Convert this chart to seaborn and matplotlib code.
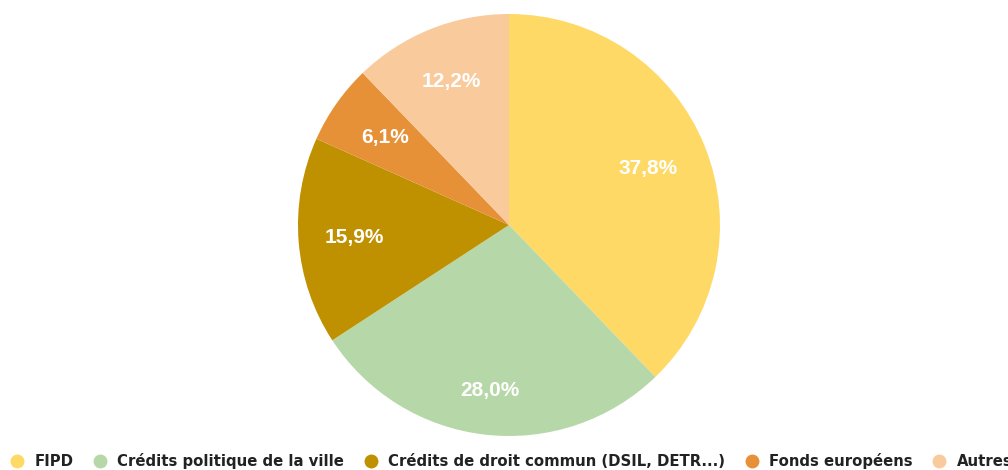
import matplotlib
matplotlib.use("Agg")
import matplotlib.pyplot as plt
import seaborn as sns
import numpy as np

sns.set_theme(style="white")
plt.rcParams["font.family"] = ["DejaVu Sans"]

categories = ["FIPD", "Crédits politique de la ville",
              "Crédits de droit commun (DSIL, DETR...)",
              "Fonds européens", "Autres"]
shares = [37.8, 28.0, 15.9, 6.1, 12.2]
colors = ["#ffd966", "#b6d7a8", "#bf9000", "#e69138", "#f9cb9c"]
# radial placement of each percentage label (fraction of radius)
label_radius = [0.71, 0.79, 0.737, 0.72, 0.734]

fig = plt.figure(figsize=(10.08, 4.70), dpi=100)
ax = fig.add_axes([298 / 1008, 34 / 470, 422 / 1008, 422 / 470])

wedges, _ = ax.pie(shares, colors=colors, startangle=90, counterclock=False,
                   wedgeprops=dict(linewidth=0))
ax.set_aspect("equal")
ax.set_xlim(-1, 1)
ax.set_ylim(-1, 1)

for w, v, r in zip(wedges, shares, label_radius):
    mid = np.deg2rad((w.theta1 + w.theta2) / 2)
    ax.text(r * np.cos(mid), r * np.sin(mid), f"{v:.1f}%".replace(".", ","),
            ha="center", va="center", color="white", fontsize=15,
            fontweight="bold", family=["Liberation Sans"])

handles = [plt.Line2D([], [], marker="o", linestyle="", markersize=9,
                      markerfacecolor=c, markeredgecolor=c) for c in colors]
fig.legend(handles, categories, loc="lower left", bbox_to_anchor=(0.005, -0.01),
           ncol=5, frameon=False, handletextpad=0.74, columnspacing=1.36,
           handlelength=0.85, borderaxespad=0.0,
           prop=dict(family="DejaVu Sans", weight="bold", size=10.7),
           labelcolor="#222222")

fig.savefig("out.png", dpi=100)
